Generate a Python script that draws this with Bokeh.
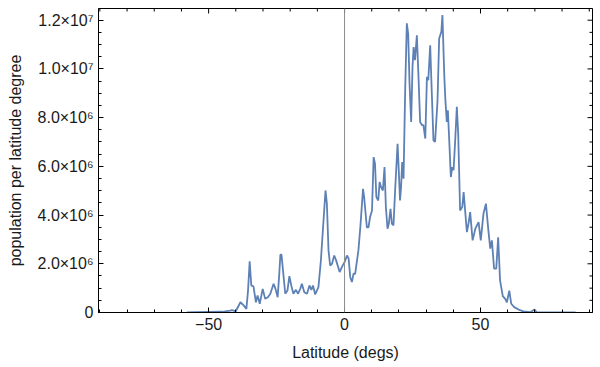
from bokeh.plotting import figure
from bokeh.models import Range1d, FixedTicker, Span, ColumnDataSource
from bokeh.embed import file_html
from bokeh.resources import INLINE

# Latitude (degrees) and population per latitude degree (millions)
lat = [-58, -55, -50, -45, -42, -41.4, -40, -38.3, -37.1, -36.1, -35.5, -34.9, -34.3, -33.5,
       -32.6, -32.0, -31.2, -30.1, -29.2, -28.2, -27.3, -26.1, -25.4, -24.6, -24.0, -23.6,
       -23.2, -22.4, -21.8, -21.0, -20.3, -19.6, -18.8, -17.9, -17.1, -16.3, -15.7, -14.8,
       -13.8, -12.9, -12.2, -11.6, -10.8, -9.6, -8.7, -7.9, -7.0, -6.5, -5.9, -5.3, -4.6,
       -3.8, -3.1, -1.8, -1.0, 0.0, 0.9, 1.5, 2.1, 2.7, 3.3, 3.9, 5.1, 5.8, 6.8, 7.2, 8.2,
       8.8, 9.4, 10.1, 10.7, 11.2, 11.7, 12.4, 12.9, 13.4, 14.1, 14.7, 15.2, 15.8, 16.3,
       16.9, 17.4, 18.0, 18.6, 19.5, 20.0, 20.4, 20.8, 21.2, 21.7, 22.3, 22.9, 23.4, 23.9,
       24.5, 25.0, 25.4, 25.9, 26.6, 27.2, 27.8, 28.5, 29.0, 29.7, 30.3, 30.8, 31.5, 32.1,
       32.7, 33.3, 34.2, 34.8, 35.6, 36.0, 36.7, 37.1, 37.6, 38.0, 38.5, 39.1, 39.6, 40.1,
       40.7, 41.3, 41.8, 42.5, 43.3, 43.8, 45.0, 45.6, 46.2, 47.1, 48.1, 49.3, 50.1, 51.1,
       52.0, 52.9, 53.6, 54.2, 55.0, 55.8, 56.5, 57.2, 58.2, 59.1, 59.7, 60.6, 61.3, 62.4,
       64.0, 65.8, 68.3, 69.9, 70.7, 75.0, 85.0]
pop_millions = [0.0, 0.01, 0.02, 0.03, 0.08, 0.1, 0.05, 0.42, 0.29, 0.15, 0.9, 2.1, 1.11, 1.07,
                0.42, 0.7, 0.36, 0.97, 0.56, 0.63, 0.77, 1.18, 0.97, 0.63, 1.6, 2.38,
                2.38, 1.45, 0.77, 0.9, 1.49, 1.11, 0.77, 0.93, 0.77, 0.97, 1.18, 0.83,
                0.77, 1.11, 0.93, 1.11, 0.74, 1.04, 2.14, 3.5, 5.01, 4.47, 2.55, 1.93, 2.0,
                2.34, 2.14, 1.66, 1.86, 2.07, 2.34, 2.21, 1.45, 1.25, 1.59, 1.59, 2.55, 3.5, 5.08, 4.74, 3.5,
                3.5, 3.92, 4.19, 6.38, 6.11, 4.74, 4.6, 5.36, 5.15, 5.01, 5.97, 4.33, 3.44, 3.65,
                4.26, 3.65, 3.58, 5.01, 6.93, 5.7, 4.6, 5.15, 6.18, 5.49, 9.12, 11.87, 11.45, 9.4,
                7.82, 10.08, 10.9, 10.36, 11.38, 9.67, 7.82, 7.69, 7.69, 7.14, 9.67, 9.54, 10.97, 8.99,
                7.07, 7.0, 8.71, 11.25, 11.52, 12.21, 9.67, 8.71, 7.82, 8.3, 7.07, 5.56, 5.97, 5.84,
                7.07, 8.44, 7.35, 4.19, 4.33, 4.94, 3.3, 3.65, 4.12, 2.96, 3.44, 3.71, 2.96, 4.06,
                4.47, 3.37, 2.62, 2.96, 1.8, 1.8, 3.09, 1.32, 0.67, 0.56, 0.42, 0.9, 0.36, 0.22,
                0.12, 0.05, 0.01, 0.12, 0.01, 0.0, 0.0]

x_ticks = [-50, 0, 50]
x_tick_labels = ["\u221250", "0", "50"]
x_minor_ticks = [-90, -80, -70, -60, -50, -40, -30, -20, -10, 0, 10, 20, 30, 40, 50, 60, 70, 80, 90]
y_ticks = [0, 2e6, 4e6, 6e6, 8e6, 1e7, 1.2e7]
y_tick_labels = ["0", "2.0\u00d710\u2076", "4.0\u00d710\u2076", "6.0\u00d710\u2076",
                 "8.0\u00d710\u2076", "1.0\u00d710\u2077", "1.2\u00d710\u2077"]
y_minor_ticks = [i * 0.5e6 for i in range(0, 26)]

x_label = "Latitude (degs)"
y_label = "population per latitude degree"

X_MIN, X_MAX = -90.5, 91.2
Y_MIN, Y_MAX = 0, 1.248e7

source = ColumnDataSource(dict(lat=lat, pop=[v * 1e6 for v in pop_millions]))

FONT = "Liberation Sans"
TEXT = "#1a1a1a"

p = figure(width=600, height=366, output_backend="svg", toolbar_location=None,
           x_range=Range1d(X_MIN, X_MAX), y_range=Range1d(Y_MIN, Y_MAX),
           min_border_left=98, min_border_right=8, min_border_top=8, min_border_bottom=54,
           x_axis_label=x_label, y_axis_label=y_label)

p.grid.visible = False
p.outline_line_color = "black"
p.outline_line_width = 1
p.background_fill_color = "white"
p.border_fill_color = "white"

p.line("lat", "pop", source=source, line_color="#5E81B5", line_width=1.8)
p.add_layout(Span(location=0, dimension="height", line_color="#8c8c8c", line_width=1))

# mirrored tick marks on the top and right frame edges (half of each dash is clipped away)
major_x = [t for t in x_minor_ticks if t in x_ticks]
minor_x = [t for t in x_minor_ticks if t not in x_ticks]
major_y = list(y_ticks)
minor_y = [t for t in y_minor_ticks if t not in y_ticks]
p.scatter(major_x, [Y_MAX] * len(major_x), marker="dash", angle=1.5708, size=10,
          line_color="black", line_width=1)
p.scatter(minor_x, [Y_MAX] * len(minor_x), marker="dash", angle=1.5708, size=6,
          line_color="black", line_width=1)
p.scatter([X_MAX] * len(major_y), major_y, marker="dash", size=10, line_color="black", line_width=1)
p.scatter([X_MAX] * len(minor_y), minor_y, marker="dash", size=6, line_color="black", line_width=1)

xt = FixedTicker(ticks=x_ticks, minor_ticks=x_minor_ticks)
yt = FixedTicker(ticks=y_ticks, minor_ticks=y_minor_ticks)

p.xaxis.ticker = xt
p.xaxis.major_label_overrides = {t: l for t, l in zip(x_ticks, x_tick_labels)}
p.yaxis.ticker = yt
p.yaxis.major_label_overrides = {t: l for t, l in zip(y_ticks, y_tick_labels)}

for ax in list(p.xaxis) + list(p.yaxis):
    ax.major_tick_in = 5
    ax.major_tick_out = 0
    ax.minor_tick_in = 3
    ax.minor_tick_out = 0
    ax.axis_line_color = "black"
    ax.major_tick_line_color = "black"
    ax.minor_tick_line_color = "black"
    ax.major_label_text_font = FONT
    ax.major_label_text_font_size = "16px"
    ax.major_label_text_color = TEXT
    ax.axis_label_text_font = FONT
    ax.axis_label_text_font_size = "16px"
    ax.axis_label_text_font_style = "normal"
    ax.axis_label_text_color = TEXT
    ax.major_label_standoff = 5

p.xaxis.axis_label_standoff = 11
p.yaxis.axis_label_standoff = 11

open("out.html", "w").write(file_html(p, INLINE))
